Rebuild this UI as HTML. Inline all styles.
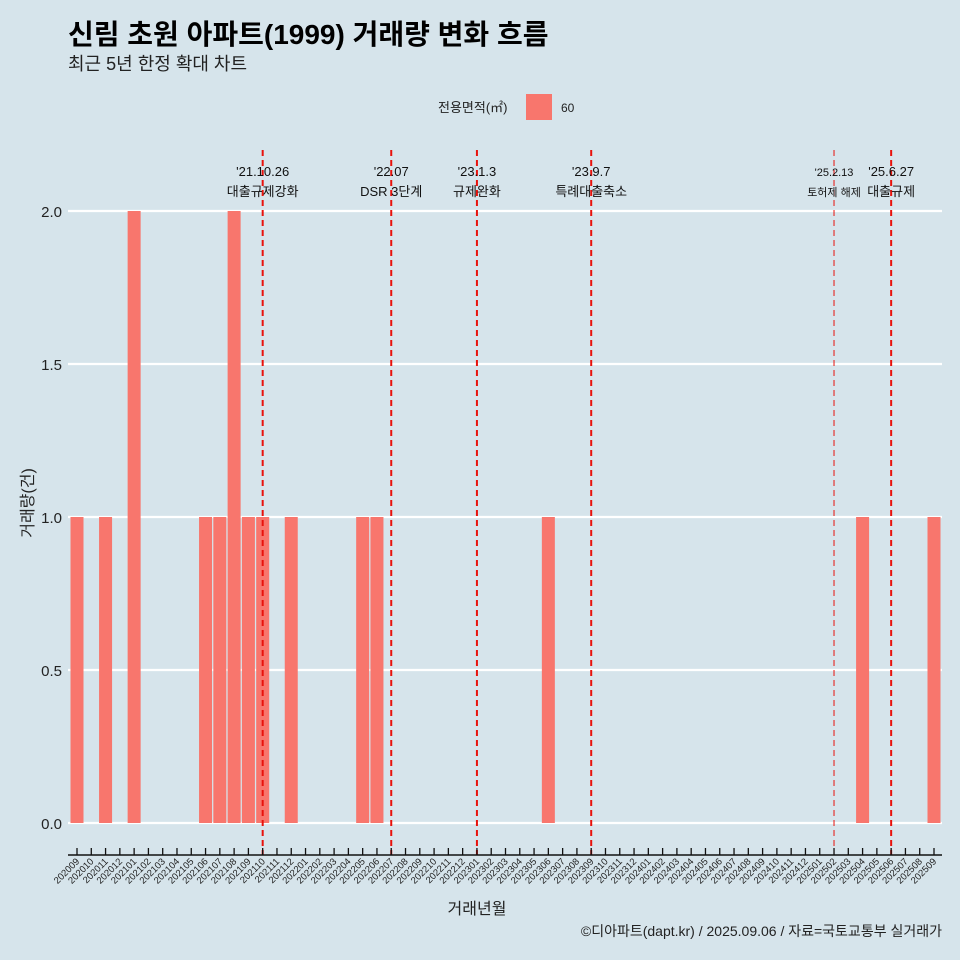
<!DOCTYPE html>
<html><head><meta charset="utf-8">
<style>
body{margin:0;background:#d6e4eb;}
svg{display:block;font-family:"Liberation Sans","Noto Sans CJK KR",sans-serif;}
</style></head>
<body>
<svg id="c" width="960" height="960">
<rect width="960" height="960" fill="#d6e4eb"/>
<text x="68" y="44" font-size="28" font-weight="bold" fill="#000">신림 초원 아파트(1999) 거래량 변화 흐름</text>
<text x="68" y="70" font-size="18" fill="#222">최근 5년 한정 확대 차트</text>
<g>
<text x="438" y="112" font-size="13" fill="#222">전용면적(㎡)</text>
<rect x="526" y="94" width="26" height="26" fill="#f8766d"/>
<text x="561" y="112" font-size="12" fill="#222">60</text>
</g>
<g id="grid"></g><g id="bars"></g><g id="vlines"></g><g id="axes"></g>
<text x="477" y="914" font-size="16" text-anchor="middle" fill="#222">거래년월</text>
<text transform="translate(33,503) rotate(-90)" font-size="16" text-anchor="middle" fill="#222">거래량(건)</text>
<text x="942" y="936" font-size="14" text-anchor="end" fill="#222">©디아파트(dapt.kr) / 2025.09.06 / 자료=국토교통부 실거래가</text>
</svg>
<script>
const months=[];for(let y=2020,m=9;!(y===2025&&m>9);){months.push(''+y+(m<10?'0':'')+m);m++;if(m>12){m=1;y++;}}
const barMonths=["202009","202011","202101","202106","202107","202108","202109","202110","202112","202205","202206","202306","202504","202509"];
const barValues=[1,1,2,1,1,2,1,1,1,1,1,1,1,1];
const yTicks=[0,0.5,1,1.5,2];
const yTickLabels=["0.0","0.5","1.0","1.5","2.0"];
const eventMonths=["202110","202207","202301","202309","202502","202506"];
const eventDates=["'21.10.26","'22.07","'23.1.3","'23.9.7","'25.2.13","'25.6.27"];
const eventLabels=["대출규제강화","DSR 3단계","규제완화","특례대출축소","토허제 해제","대출규제"];
const NS="http://www.w3.org/2000/svg";
const X=i=>77+i*(934-77)/(months.length-1);
const Y=v=>823-v*306;
function mk(p,t,a){const e=document.createElementNS(NS,t);for(const k in a)e.setAttribute(k,a[k]);document.getElementById(p).appendChild(e);return e;}
yTicks.forEach((v,i)=>{
 const l=mk('grid','line',{x1:68,x2:942,y1:Y(v),y2:Y(v),stroke:'#fff','stroke-width':2.2});
 
 
 const t=mk('grid','text',{x:62,y:Y(v)+6,'font-size':15,'text-anchor':'end',fill:'#222'});t.textContent=yTickLabels[i];
 
 
});
barMonths.forEach((m,i)=>{
 const x=X(months.indexOf(m));
 const r=mk('bars','rect',{x:x-6.5,y:Y(barValues[i]),width:13,height:Y(0)-Y(barValues[i]),fill:'#f8766d'});
 
 
});
eventMonths.forEach((m,i)=>{
 const x=X(months.indexOf(m));const thin=m==="202502";
 const l=mk('vlines','line',{x1:x,x2:x,y1:150,y2:855,stroke:'#e8120c','stroke-width':thin?1:2,'stroke-dasharray':'6,4'});
 
 
 const fs=thin?11:13;
 const t1=mk('vlines','text',{x:x,y:176,'font-size':fs,'text-anchor':'middle',fill:'#111'});t1.textContent=eventDates[i];
 
 
 const t2=mk('vlines','text',{x:x,y:196,'font-size':fs,'text-anchor':'middle',fill:'#111'});t2.textContent=eventLabels[i];
 
 
});
const ax=mk('axes','line',{x1:68,x2:942,y1:855,y2:855,stroke:'#111','stroke-width':1.5});


months.forEach((m,i)=>{
 const x=X(i);
 const tk=mk('axes','line',{x1:x,x2:x,y1:848,y2:855,stroke:'#111','stroke-width':1.3});
 
 
 const t=mk('axes','text',{transform:`translate(${x+3},${862}) rotate(-45)`,'font-size':9.5,'text-anchor':'end',fill:'#222'});t.textContent=m;
 
 
});
</script>
</body></html>
